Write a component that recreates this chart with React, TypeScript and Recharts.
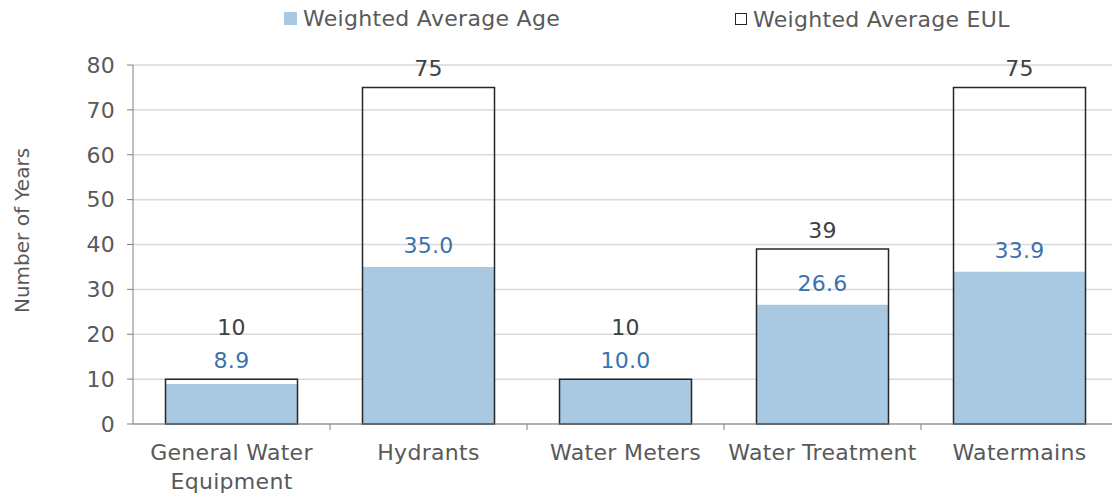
import { BarChart, Bar, XAxis, YAxis, CartesianGrid, Legend, LabelList, Text } from 'recharts';

const categories = ['General Water Equipment', 'Hydrants', 'Water Meters', 'Water Treatment', 'Watermains'];
const avgAge = [8.9, 35.0, 10.0, 26.6, 33.9];
const avgEul = [10, 75, 10, 39, 75];
const yTicks = [0, 10, 20, 30, 40, 50, 60, 70, 80];

const data = categories.map((name, i) => ({ name, age: avgAge[i], eul: avgEul[i] }));

const FONT = '"DejaVu Sans", Verdana, sans-serif';
const AGE_FILL = '#a9c8e2';
const AGE_TEXT = '#3a72ad';
const GRAY_TEXT = '#595959';
const TEXT_STYLE = { fontSize: 22, fontFamily: FONT, letterSpacing: 0.3 };

const CHART_W = 1120;
const LEFT = 133;
const RIGHT_MARGIN = 2;
const BAND = (CHART_W - LEFT - RIGHT_MARGIN) / categories.length;

// when age and EUL are nearly equal the two labels get stacked above the EUL bar
const crowded = (i: number) => avgEul[i] - avgAge[i] < 5;

function AgeLabel(props: any) {
  const { x, y, width, height, value, index } = props;
  const base = y + height;
  const perUnit = height / value;
  const top = crowded(index) ? base - avgEul[index] * perUnit : y;
  const offset = crowded(index) ? 11 : 14;
  return (
    <text x={x + width / 2} y={top - offset} textAnchor="middle" fill={AGE_TEXT} style={TEXT_STYLE}>
      {Number(value).toFixed(1)}
    </text>
  );
}

function EulLabel(props: any) {
  const { x, y, width, value, index } = props;
  const lift = crowded(index) ? 44 : 11;
  return (
    <text x={x + width / 2} y={y - lift} textAnchor="middle" fill="#404040" style={TEXT_STYLE}>
      {value}
    </text>
  );
}

// category label plus the divider tick sitting on the right edge of each band
function CategoryTick(props: any) {
  const { x, y, payload } = props;
  return (
    <g>
      <line x1={x + BAND / 2} x2={x + BAND / 2} y1={y - 8} y2={y - 2} stroke="#7f7f7f" />
      <Text x={x} y={y + 12} width={BAND - 6} textAnchor="middle" verticalAnchor="start"
        fill={GRAY_TEXT} lineHeight={29} style={TEXT_STYLE}>
        {payload.value}
      </Text>
    </g>
  );
}

function YTitle(props: any) {
  const { viewBox } = props;
  const cx = viewBox.x + 22;
  const cy = viewBox.y + viewBox.height / 2 - 14;
  return (
    <text x={cx} y={cy} transform={`rotate(-90 ${cx} ${cy})`} textAnchor="middle" dominantBaseline="central"
      fill={GRAY_TEXT} style={{ fontSize: 20, fontFamily: FONT }}>
      Number of Years
    </text>
  );
}

function ChartLegend() {
  const item = (label: string, swatch: any) => (
    <span style={{ display: 'inline-flex', alignItems: 'center' }}>
      <span style={{ display: 'inline-block', width: 13, height: 13, marginRight: 6, boxSizing: 'border-box', ...swatch }} />
      {label}
    </span>
  );
  return (
    <div style={{ position: 'relative', height: 40, fontFamily: FONT, fontSize: 22, letterSpacing: 0.3, color: GRAY_TEXT }}>
      <div style={{ position: 'absolute', left: 284, top: 5 }}>
        {item('Weighted Average Age', { background: AGE_FILL })}
      </div>
      <div style={{ position: 'absolute', left: 735, top: 5 }}>
        {item('Weighted Average EUL', { background: '#fff', border: '1.5px solid #262626', width: 12, height: 12 })}
      </div>
    </div>
  );
}

export default function App() {
  return (
    <div style={{ position: 'absolute', left: 0, top: 0, width: 1112, height: 495, overflow: 'hidden', background: '#fff' }}>
      <BarChart width={CHART_W} height={495} data={data} barCategoryGap="16.5%"
        margin={{ top: 25, right: RIGHT_MARGIN, bottom: 0, left: 0 }}>
        <CartesianGrid vertical={false} stroke="#d9d9d9" strokeWidth={1.5} />
        <XAxis xAxisId="age" dataKey="name" height={71} axisLine={{ stroke: '#7f7f7f' }}
          tickLine={false} tick={<CategoryTick />} interval={0} />
        <XAxis xAxisId="eul" dataKey="name" hide />
        <YAxis domain={[0, 80]} ticks={yTicks} width={LEFT} axisLine={{ stroke: '#7f7f7f' }}
          tickLine={{ stroke: '#7f7f7f' }} tickSize={6} tickMargin={12}
          tick={{ fill: GRAY_TEXT, style: TEXT_STYLE }}
          label={<YTitle />} />
        <Legend verticalAlign="top" content={<ChartLegend />} wrapperStyle={{ top: 0, left: 0, width: 1112 }} />
        <Bar xAxisId="age" dataKey="age" fill={AGE_FILL} isAnimationActive={false}>
          <LabelList dataKey="age" content={<AgeLabel />} />
        </Bar>
        <Bar xAxisId="eul" dataKey="eul" fill="none" stroke="#262626" strokeWidth={1.5} isAnimationActive={false}>
          <LabelList dataKey="eul" content={<EulLabel />} />
        </Bar>
      </BarChart>
    </div>
  );
}
